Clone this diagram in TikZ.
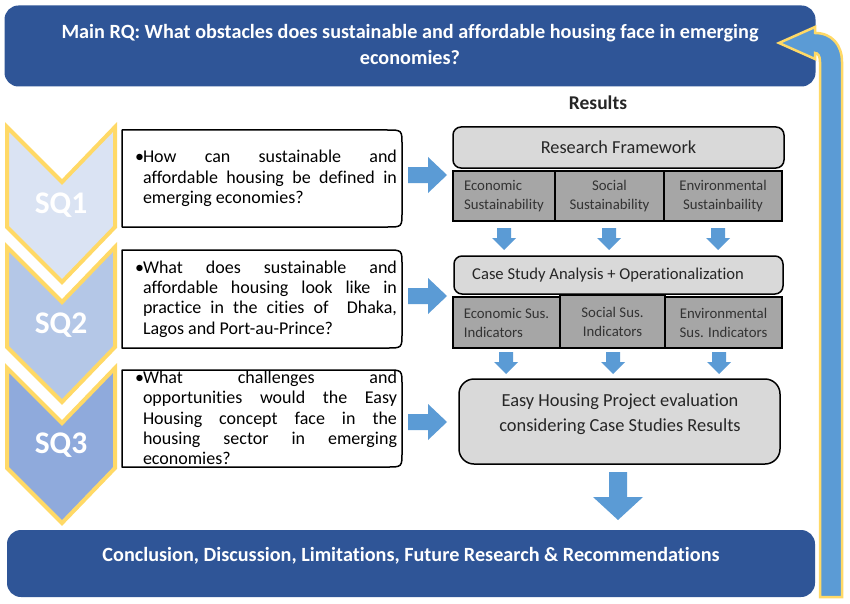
\documentclass[tikz,border=0pt]{standalone}
\usepackage{fontspec}
\setmainfont{Carlito}[Ligatures=NoCommon]
\definecolor{dblue}{RGB}{47,85,151}
\definecolor{ablue}{RGB}{91,155,213}
\definecolor{ygold}{RGB}{255,217,102}
\definecolor{sqa}{RGB}{218,227,243}
\definecolor{sqb}{RGB}{180,199,231}
\definecolor{sqc}{RGB}{143,170,220}
\definecolor{lgray}{RGB}{217,217,217}
\definecolor{mgray}{RGB}{166,166,166}
\tikzset{
 qbox/.style={draw=black, line width=1.5pt, line join=round},
 qtext/.style={text width=263pt, align=justify, inner sep=0pt, font=\fontsize{18}{20.3}\selectfont},
 chev/.style={draw=ygold, line width=4pt, line join=miter},
 sqlabel/.style={text=white, font=\fontsize{31.5}{34}\selectfont\bfseries},
 gbox/.style={draw=black, fill=lgray, line width=1.5pt, rounded corners=8pt, text=black!85, inner sep=0pt},
 cellbox/.style={draw=black, fill=mgray, line width=2.5pt, text=black!80, font=\fontsize{14.8}{19}\selectfont, inner sep=0pt},
 barrow/.style={fill=ablue},
 bigbox/.style={fill=dblue, rounded corners=14pt},
 wtext/.style={text=white, font=\fontsize{20.2}{26}\selectfont\bfseries, align=center},
}
\newcommand\chevronat[2]{%
 \path[chev, fill=#2] (7,#1) -- (62,#1+55) -- (115,#1) -- (115,#1+100) -- (62,#1+155) -- (7,#1+100) -- cycle;}
\newcommand\qboxat[2]{%
 \path[qbox] (122,#1) -- (387,#1) .. controls (402,#1) .. (402,#1+15) -- (402,#2-15) .. controls (402,#2) .. (387,#2) -- (122,#2) -- cycle;}
\newcommand\rarrowat[1]{%
 \path[barrow] (408,#1-8) -- (428,#1-8) -- (428,#1-18) -- (447,#1) -- (428,#1+18) -- (428,#1+8) -- (408,#1+8) -- cycle;}
\newcommand\darrowat[2]{%
 \path[barrow] (#1-7,#2) -- (#1+7,#2) -- (#1+7,#2+10) -- (#1+12,#2+10) -- (#1,#2+22) -- (#1-12,#2+10) -- (#1-7,#2+10) -- cycle;}
\newcommand\qbullet{\hspace*{1pt}\makebox[8pt][l]{\textbullet}\hangindent=9pt\hangafter=1\relax}
\begin{document}
\begin{tikzpicture}[x=1pt,y=-1pt]
\useasboundingbox[fill=white] (0,0) rectangle (850,604);

% top main RQ box
\node[bigbox, minimum width=811pt, minimum height=81pt] (rq) at (410,46) {};
\node[wtext] (rqtext) at (410,44) {Main RQ: What obstacles does sustainable and affordable housing face in emerging\\economies?};

% bottom box
\node[bigbox, minimum width=808pt, minimum height=67pt] (concl) at (411,563.5) {};
\node[wtext] (concltext) at (411,556) {Conclusion, Discussion, Limitations, Future Research \& Recommendations};

% return arrow on the right
\path[fill=ablue, draw=ygold, line width=2.5pt, line join=miter]
 (820,597) -- (820,62) .. controls (820,56) and (818,53) .. (815,53) -- (815,59) -- (779,43) -- (815,27) -- (815,33)
 .. controls (832,33) and (842,45) .. (842,62) -- (842,597) -- cycle;

% chevrons
\chevronat{127}{sqa}
\chevronat{247}{sqb}
\chevronat{368}{sqc}
\node[sqlabel] (sq1) at (61,205) {SQ1};
\node[sqlabel] (sq2) at (61,325) {SQ2};
\node[sqlabel] (sq3) at (61,445) {SQ3};

% question boxes
\qboxat{130}{227}
\qboxat{250}{348}
\qboxat{370}{467}
\node[qtext] (q1) at (265.5,178.5) {\qbullet How can sustainable and\linebreak affordable housing be defined in\linebreak emerging economies?\par};
\node[qtext] (q2) at (265.5,299) {\qbullet What does sustainable and\linebreak affordable housing look like in\linebreak practice in the cities of~ Dhaka,\linebreak Lagos and Port-au-Prince?\par};
\node[qtext] (q3) at (265.5,418) {\qbullet What challenges and\linebreak opportunities would the Easy\linebreak Housing concept face in the\linebreak housing sector in emerging\linebreak economies?\par};

% right arrows
\rarrowat{175}
\rarrowat{296}
\rarrowat{422}

% Results
\node[font=\fontsize{19.5}{22}\selectfont\bfseries, text=black!85] (res) at (598,103) {Results};

% research framework
\node[gbox, minimum width=331pt, minimum height=41pt, font=\fontsize{18.3}{20}\selectfont] (rf) at (618.5,147.5) {Research Framework};
\node[cellbox, minimum width=102pt, minimum height=50pt, align=left] (c11) at (504,196) {Economic\\Sustainability};
\node[cellbox, minimum width=109pt, minimum height=50pt, align=center] (c12) at (609.5,196) {Social\\Sustainability};
\node[cellbox, minimum width=118pt, minimum height=50pt, align=center] (c13) at (723,196) {Environmental\\Sustainbaility};

\darrowat{504}{228}
\darrowat{609}{228}
\darrowat{718}{228}

% case study
\node[gbox, minimum width=329pt, minimum height=38pt] (cs) at (618.5,275) {};
\node[anchor=west, inner sep=0pt, text=black!85, font=\fontsize{16.6}{20}\selectfont] (cstext) at (472,275) {Case Study Analysis + Operationalization};
\node[cellbox, minimum width=107pt, minimum height=51pt, align=left] (c21) at (506.5,322.5) {Economic Sus.\\Indicators};
\node[cellbox, minimum width=105pt, minimum height=53pt, align=center] (c22) at (612.5,321.5) {Social Sus.\\Indicators};
\node[cellbox, minimum width=117pt, minimum height=51pt, align=center] (c23) at (723.5,322.5) {Environmental\\Sus. Indicators};

\darrowat{506}{352}
\darrowat{613}{352}
\darrowat{719}{352}

% easy housing
\node[gbox, rounded corners=15pt, minimum width=321pt, minimum height=85pt] (eh) at (619.5,421.5) {};
\node[font=\fontsize{18.4}{25}\selectfont, text=black!85, align=center] (ehtext) at (620,414) {Easy Housing Project evaluation\\considering Case Studies Results};

% big down arrow
\path[barrow] (609,472) -- (627,472) -- (627,497) -- (643,497) -- (618,520) -- (593,497) -- (609,497) -- cycle;
\end{tikzpicture}
\end{document}
